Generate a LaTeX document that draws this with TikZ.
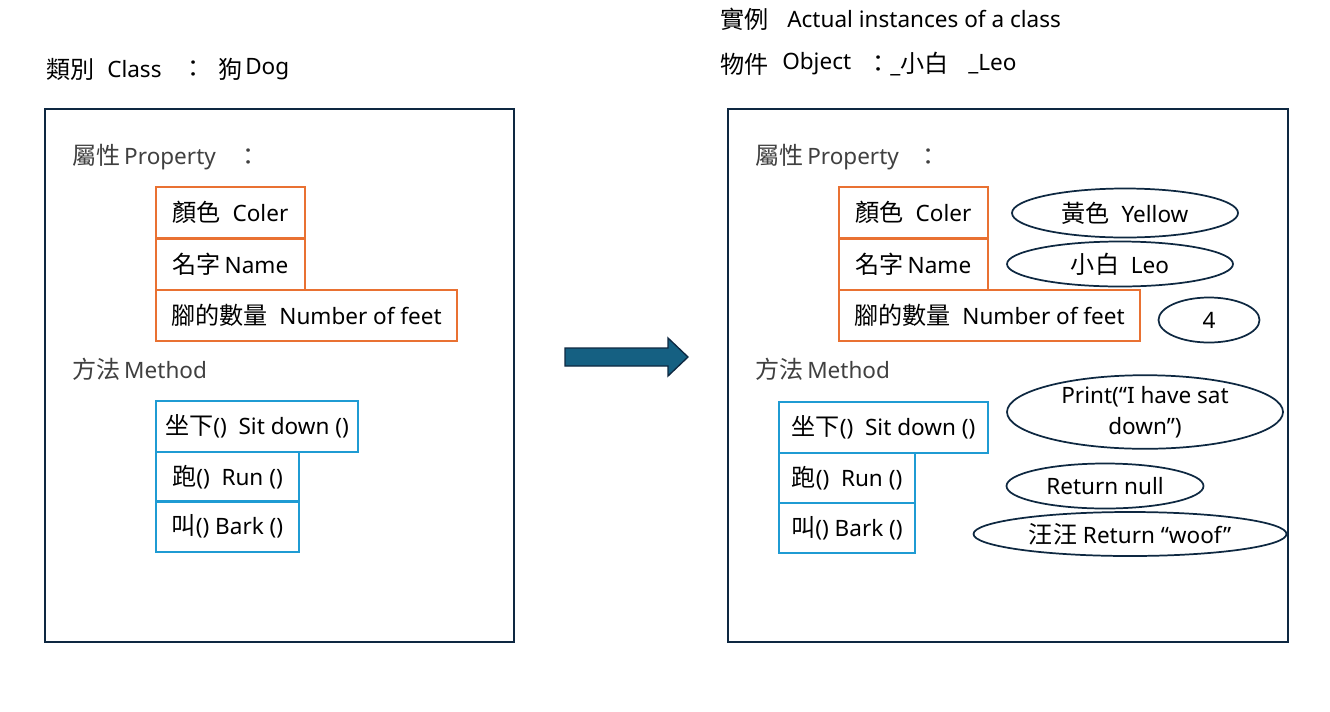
\documentclass[tikz,border=0pt]{standalone}
\usepackage{fontspec}
\setmainfont{Noto Sans}
\newfontfamily\cjkfont{Noto Sans CJK TC}[Scale=1.07]
\newcommand{\zh}[1]{{\cjkfont #1}}
\newcommand{\px}[1]{#1*0.75pt}
\usetikzlibrary{shapes.geometric}
\definecolor{framec}{HTML}{0E2841}
\definecolor{orangec}{HTML}{E97132}
\definecolor{bluec}{HTML}{1F9BD3}
\definecolor{arrowc}{HTML}{156082}
\definecolor{grayt}{HTML}{404040}
\begin{document}
\begin{tikzpicture}[x=0.75pt,y=-0.75pt,
  font=\fontsize{16.9}{20}\selectfont,
  frame/.style={draw=framec, line width=1.5pt, anchor=north west, inner sep=0pt},
  obox/.style={draw=orangec, line width=1.5pt, anchor=north west, inner sep=0pt, minimum height=\px{51}},
  bbox/.style={draw=bluec, line width=1.5pt, anchor=north west, inner sep=0pt, minimum height=\px{50}},
  oval/.style={ellipse, draw=framec, line width=1.3pt, inner sep=0pt, align=center},
  lbl/.style={anchor=west, inner sep=0pt},
  glbl/.style={anchor=west, inner sep=0pt, text=grayt}
]
\useasboundingbox (0,0) rectangle (1330,711);
\fill[white] (0,0) rectangle (1330,711);

% headings
\node[lbl] (h1) at (46,69) {\zh{類別}};
\node[lbl] (h2) at (107,69) {Class};
\node[lbl] (h3) at (181,69) {\zh{：}};
\node[lbl] (h4) at (218,69) {\zh{狗}};
\node[lbl] (h5) at (245,69) {Dog};

\node[lbl] (r1) at (720,19) {\zh{實例}};
\node[lbl] (r2) at (787,19) {Actual instances of a class};
\node[lbl] (r3) at (720,64) {\zh{物件}};
\node[lbl] (r4) at (782,64) {Object};
\node[lbl] (r5) at (866,64) {\zh{：}};
\node[lbl] (r6) at (890,64) {\_\zh{小白}};
\node[lbl] (r7) at (968,64) {\_Leo};

% frames
\node[frame, minimum width=\px{469}, minimum height=\px{533}] (lframe) at (44,108) {};
\node[frame, minimum width=\px{560}, minimum height=\px{533}] (rframe) at (727,108) {};

% left class
\node[glbl] (lp1) at (72,157) {\zh{屬性}\,Property};
\node[glbl] (lp2) at (236,157) {\zh{：}};
\node[obox, minimum width=\px{149}] (lc) at (155,186) {\zh{顏色}\ \ Coler};
\node[obox, minimum width=\px{149}] (ln) at (155,238) {\zh{名字}\,Name};
\node[obox, minimum width=\px{301}] (lf) at (155,289) {\zh{腳的數量}\ \ Number of feet};
\node[glbl] (lm) at (72,369) {\zh{方法}\,Method};
\node[bbox, minimum width=\px{202}, minimum height=\px{51}] (ls) at (155,400) {\zh{坐下}()\ \ Sit down ()};
\node[bbox, minimum width=\px{143}] (lr) at (155,451) {\zh{跑}()\ \ Run ()};
\node[bbox, minimum width=\px{143}, minimum height=\px{51}] (lb) at (155,500) {\zh{叫}() Bark ()};

% arrow
\draw[fill=arrowc, draw=framec, line width=1pt, line join=miter]
  (565,348) -- (668,348) -- (668,338) -- (688,357) -- (668,376) -- (668,366) -- (565,366) -- cycle;

% right object
\node[glbl] (rp1) at (755,157) {\zh{屬性}\,Property};
\node[glbl] (rp2) at (916,157) {\zh{：}};
\node[obox, minimum width=\px{149}] (rc) at (838,186) {\zh{顏色}\ \ Coler};
\node[obox, minimum width=\px{149}] (rn) at (838,238) {\zh{名字}\,Name};
\node[obox, minimum width=\px{301}] (rf) at (838,289) {\zh{腳的數量}\ \ Number of feet};
\node[glbl] (rm) at (755,369) {\zh{方法}\,Method};
\node[bbox, minimum width=\px{209}, minimum height=\px{51}] (rs) at (778,401) {\zh{坐下}()\ \ Sit down ()};
\node[bbox, minimum width=\px{136}] (rr) at (778,452) {\zh{跑}()\ \ Run ()};
\node[bbox, minimum width=\px{136}] (rb) at (778,502) {\zh{叫}() Bark ()};

% values
\node[oval, minimum width=\px{226}, minimum height=\px{49}] (ey) at (1125,213) {\zh{黃色}\ \ Yellow};
\node[oval, minimum width=\px{226}, minimum height=\px{45}] (el) at (1120,264) {\zh{小白}\ \ Leo};
\node[oval, minimum width=\px{101}, minimum height=\px{45}] (e4) at (1209,320) {4};
\node[oval, minimum width=\px{276}, minimum height=\px{68}, font=\fontsize{16.9}{23.5}\selectfont] (ep) at (1145,412) {Print(“I have sat\\down”)};
\node[oval, minimum width=\px{197}, minimum height=\px{45}] (er) at (1105,486) {Return null};
\node[oval, minimum width=\px{313}, minimum height=\px{44}] (ew) at (1130,534) {\zh{汪汪} Return “woof”};
\end{tikzpicture}
\end{document}
